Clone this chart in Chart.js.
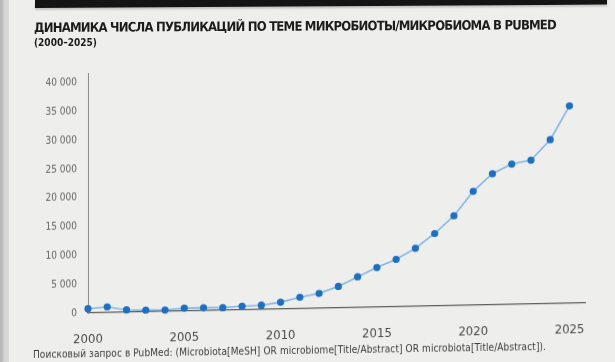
<!DOCTYPE html>
<html lang="ru">
<head>
<meta charset="utf-8">
<title>Публикации по микробиоте в PubMed</title>
<script src="https://cdn.jsdelivr.net/npm/chart.js@4.4.1/dist/chart.umd.min.js"></script>
<style>
    html, body { margin: 0; padding: 0; background: #eeeeed; }
    #page { position: relative; width: 615px; height: 362px; overflow: hidden; background: #eeeeed; }
    #edge { position: absolute; z-index: 3; left: 0; top: 0; width: 9px; height: 362px;
            background: linear-gradient(to right, #b4b4b4 0px, #c2c2c2 3px, #d4d4d4 4px, #dadada 9px); }
    #bar { position: absolute; z-index: 3; left: 35px; top: 0px; width: 572px; height: 8px; background: #141414;
           transform-origin: 0 0; transform: skewY(-0.35deg); box-shadow: 0 2px 2px rgba(0,0,0,0.18); }
    .txt { position: absolute; z-index: 2; white-space: nowrap; font-family: "DejaVu Sans Condensed", "Liberation Sans Narrow", sans-serif; }
    #title { left: 34px; top: 20px; font-size: 13px; font-weight: bold; color: #1c1c1c;
             transform-origin: 0 0; transform: skewY(-0.3deg); }
    #sub { left: 34px; top: 37px; font-size: 10px; font-weight: bold; color: #1c1c1c; }
    #note { left: 33px; top: 349px; font-size: 10px; color: #3c3c3c;
            transform-origin: 0 0; transform: skewY(-0.9deg); }
    #chart { position: absolute; z-index: 1; left: 0; top: 0;
             transform-origin: 88px 313px; transform: skewY(-1.15deg); }
</style>
</head>
<body>
<div id="page">
    <div id="edge"></div>
    <div id="bar"></div>
    <div id="title" class="txt">ДИНАМИКА ЧИСЛА ПУБЛИКАЦИЙ ПО ТЕМЕ МИКРОБИОТЫ/МИКРОБИОМА В PUBMED</div>
    <div id="sub" class="txt">(2000–2025)</div>
    <canvas id="chart" width="615" height="362"></canvas>
    <div id="note" class="txt">Поисковый запрос в PubMed: (Microbiota[MeSH] OR microbiome[Title/Abstract] OR microbiota[Title/Abstract]).</div>
</div>

<script>
// data
const years = [2000, 2001, 2002, 2003, 2004, 2005, 2006, 2007, 2008, 2009,
               2010, 2011, 2012, 2013, 2014, 2015, 2016, 2017, 2018, 2019,
               2020, 2021, 2022, 2023, 2024, 2025];
const publications = [750, 1000, 400, 300, 250, 500, 500, 450, 650, 750,
                      1200, 2000, 2600, 3750, 5350, 6900, 8250, 10100, 12600, 15600,
                      19800, 22800, 24400, 25000, 28500, 34300];
const yearTicks = [2000, 2005, 2010, 2015, 2020, 2025];
const countTicks = [0, 5000, 10000, 15000, 20000, 25000, 30000, 35000, 40000];

const labelFont = '"DejaVu Sans Condensed", "Liberation Sans Narrow", sans-serif';

function spaced(v) {
    return String(v).replace(/\B(?=(\d{3})+(?!\d))/g, ' ');
}

function fitWidth(id, target) {
    const el = document.getElementById(id);
    const w = el.getBoundingClientRect().width;
    el.style.letterSpacing = ((target - w) / el.textContent.length) + 'px';
}

document.addEventListener("DOMContentLoaded", function () {
    fitWidth('title', 522);
    fitWidth('note', 513);

    const ctx = document.getElementById('chart').getContext('2d');
    new Chart(ctx, {
        type: 'line',
        data: {
            datasets: [{
                label: 'Публикации',
                data: years.map((y, i) => ({ x: y, y: publications[i] })),
                borderColor: '#82b6e2',
                borderWidth: 1.6,
                pointBackgroundColor: '#1f6fc1',
                pointBorderColor: '#1f6fc1',
                pointBorderWidth: 0,
                pointRadius: 3.6,
                tension: 0,
                clip: false
            }]
        },
        options: {
            responsive: false,
            animation: false,
            layout: { padding: { top: 73, right: 30, left: 0, bottom: 0 } },
            plugins: {
                legend: { display: false },
                tooltip: { enabled: false }
            },
            scales: {
                x: {
                    type: 'linear',
                    min: 2000,
                    max: 2025.8,
                    afterFit: (scale) => { scale.height = 49; },
                    afterBuildTicks: (scale) => { scale.ticks = yearTicks.map(v => ({ value: v })); },
                    grid: { display: false, drawTicks: false },
                    border: { display: true, color: '#5e5e5e', width: 1.2 },
                    ticks: {
                        callback: (v) => String(v),
                        font: { family: labelFont, size: 13 },
                        color: '#4a4a4a',
                        padding: 19,
                        maxRotation: 0,
                        autoSkip: false
                    }
                },
                y: {
                    min: 0,
                    max: 41700,
                    afterFit: (scale) => { scale.width = 88; },
                    afterBuildTicks: (scale) => { scale.ticks = countTicks.map(v => ({ value: v })); },
                    grid: { display: false, drawTicks: false },
                    border: { display: true, color: '#8e8e8e', width: 1 },
                    ticks: {
                        callback: (v) => spaced(v),
                        font: { family: labelFont, size: 10 },
                        color: '#646464',
                        padding: 11
                    }
                }
            }
        }
    });
});
</script>
</body>
</html>
